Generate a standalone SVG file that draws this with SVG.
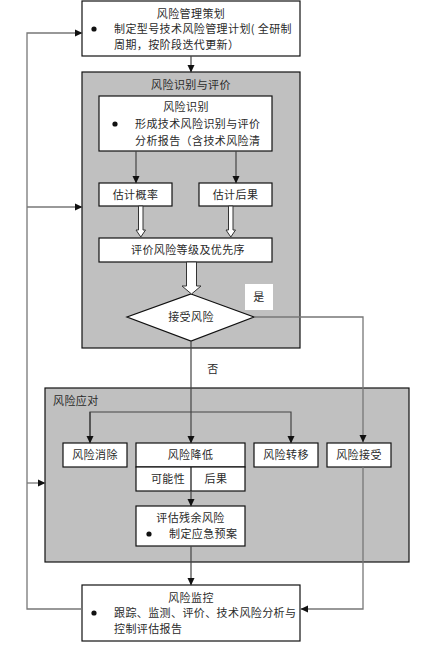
<svg xmlns="http://www.w3.org/2000/svg" width="436" height="648" viewBox="0 0 436 648">
<style>
text{font-family:"Noto Sans CJK SC","Noto Sans",sans-serif;font-size:11px;fill:#2a2a2a;letter-spacing:0.4px}
.c{text-anchor:middle}
.box{fill:#fff;stroke:#111;stroke-width:1.2}
.grp{fill:#c0c0c0;stroke:#111;stroke-width:1.2}
.ln{fill:none;stroke:#444;stroke-width:1.2}
.lg{fill:none;stroke:#777;stroke-width:1.3}
.ha{fill:#fff;stroke:#333;stroke-width:1}
</style>
<defs>
<marker id="ar" markerWidth="8" markerHeight="8" refX="7" refY="4" orient="auto" markerUnits="userSpaceOnUse">
<path d="M0,0.5 L7.5,4 L0,7.5 Z" fill="#111"/>
</marker>
</defs>
<rect width="436" height="648" fill="#fff"/>

<g id="plan">
<rect class="box" x="82" y="1" width="218" height="55"/>
<text class="c" x="191" y="18">风险管理策划</text>
<circle cx="94" cy="29" r="2.6" fill="#111"/>
<text x="114" y="33">制定型号技术风险管理计划( 全研制</text>
<text x="114" y="49">周期，按阶段迭代更新）</text>
</g>

<g id="identify-group">
<rect class="grp" x="82" y="72" width="218" height="276"/>
<text class="c" x="191" y="89">风险识别与评价</text>
</g>

<g id="identify">
<rect class="box" x="99" y="96" width="173" height="55"/>
<text class="c" x="186" y="111">风险识别</text>
<circle cx="115" cy="124" r="2.6" fill="#111"/>
<text x="135" y="128">形成技术风险识别与评价</text>
<text x="135" y="145">分析报告（含技术风险清</text>
</g>

<g id="prob">
<rect class="box" x="99" y="183" width="73" height="23"/>
<text class="c" x="135.5" y="198.5">估计概率</text>
</g>
<g id="cons">
<rect class="box" x="199" y="183" width="73" height="23"/>
<text class="c" x="235.5" y="198.5">估计后果</text>
</g>

<g id="evaluate">
<rect class="box" x="99" y="238" width="173" height="24"/>
<text class="c" x="188" y="254">评价风险等级及优先序</text>
</g>

<g id="accept-decision">
<polygon class="box" points="191,294 254,317 191,341 127,317"/>
<text class="c" x="191" y="321">接受风险</text>
</g>

<g id="yes-label">
<rect x="245" y="284" width="28" height="26" fill="#fff"/>
<text class="c" x="259" y="301">是</text>
</g>
<g id="no-label">
<text class="c" x="213" y="373">否</text>
</g>

<g id="response-group">
<rect class="grp" x="45" y="388" width="364" height="174"/>
<text x="53" y="405">风险应对</text>
</g>

<g id="eliminate">
<rect class="box" x="63" y="443" width="64" height="24"/>
<text class="c" x="95" y="459">风险消除</text>
</g>
<g id="reduce">
<rect class="box" x="136" y="443" width="109" height="24"/>
<text class="c" x="190.5" y="459">风险降低</text>
<rect class="box" x="136" y="467" width="109" height="24"/>
<line x1="191" y1="467" x2="191" y2="491" stroke="#111" stroke-width="1.2"/>
<text class="c" x="168" y="483">可能性</text>
<text class="c" x="216" y="483">后果</text>
</g>
<g id="transfer">
<rect class="box" x="254" y="443" width="64" height="24"/>
<text class="c" x="286" y="459">风险转移</text>
</g>
<g id="accept">
<rect class="box" x="327" y="443" width="64" height="24"/>
<text class="c" x="359" y="459">风险接受</text>
</g>

<g id="residual">
<rect class="box" x="136" y="506" width="109" height="40"/>
<text class="c" x="190.5" y="522">评估残余风险</text>
<circle cx="149" cy="534" r="2.6" fill="#111"/>
<text x="169" y="538">制定应急预案</text>
</g>

<g id="monitor">
<rect class="box" x="82" y="585" width="218" height="56"/>
<text class="c" x="191" y="602">风险监控</text>
<circle cx="94" cy="613" r="2.6" fill="#111"/>
<text x="114" y="617">跟踪、监测、评价、技术风险分析与</text>
<text x="114" y="633">控制评估报告</text>
</g>

<g id="connectors">
<line class="ln" x1="191" y1="56" x2="191" y2="72" marker-end="url(#ar)"/>
<line class="ln" x1="136" y1="151" x2="136" y2="183" marker-end="url(#ar)"/>
<line class="ln" x1="236" y1="151" x2="236" y2="183" marker-end="url(#ar)"/>
<polygon class="ha" points="138.5,206 143,206 143,230 145.5,230 140.8,237 136,230 138.5,230"/>
<polygon class="ha" points="228.5,206 233,206 233,230 235.5,230 230.8,237 226,230 228.5,230"/>
<polygon class="ha" points="186.5,262 196.5,262 196.5,286 201,286 191.5,294 182,286 186.5,286"/>
<polyline class="lg" points="254,317 363,317 363,442" marker-end="url(#ar)"/>
<polyline class="lg" points="363,467 363,609 301,609" marker-end="url(#ar)"/>
<line class="ln" x1="191" y1="341" x2="191" y2="443" marker-end="url(#ar)"/>
<polyline class="ln" points="90,443 90,412 291,412 291,443" marker-end="url(#ar)"/>
<line class="ln" x1="90" y1="412" x2="90" y2="443" marker-end="url(#ar)"/>
<line class="ln" x1="191" y1="491" x2="191" y2="506" marker-end="url(#ar)"/>
<line class="ln" x1="191" y1="546" x2="191" y2="585" marker-end="url(#ar)"/>
<polyline class="lg" points="82,609 27,609 27,33 82,33" marker-end="url(#ar)"/>
<line class="lg" x1="27" y1="207" x2="82" y2="207" marker-end="url(#ar)"/>
<line class="lg" x1="27" y1="483" x2="45" y2="483" marker-end="url(#ar)"/>
</g>
</svg>
